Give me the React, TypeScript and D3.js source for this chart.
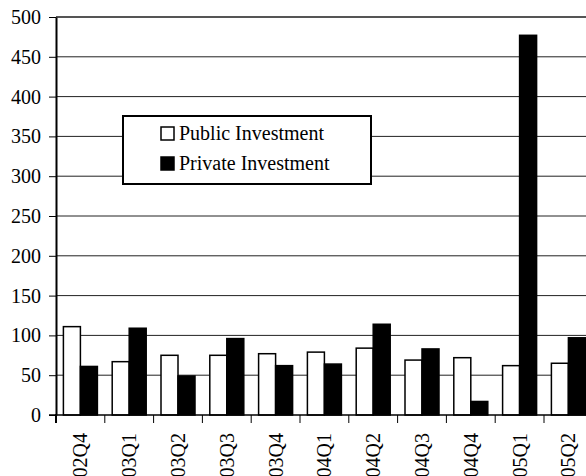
import React, { useEffect, useRef } from 'react';
import * as d3 from 'd3';

const quarters = ['2002Q4', '2003Q1', '2003Q2', '2003Q3', '2003Q4', '2004Q1', '2004Q2', '2004Q3', '2004Q4', '2005Q1', '2005Q2'];
const publicInv = [111, 67, 75, 75, 77, 79, 84, 69, 72, 62, 65];
const privateInv = [61, 109, 49, 96, 62, 64, 114, 83, 17, 477, 97];
const yTicks = [0, 50, 100, 150, 200, 250, 300, 350, 400, 450, 500];

const W = 586;
const H = 476;

const App: React.FC = () => {
  const svgRef = useRef<SVGSVGElement>(null);

  useEffect(() => {
    if (!svgRef.current) return;
    const svg = d3.select(svgRef.current);
    svg.selectAll('*').remove();

    const left = 56, top = 17, bottom = 415;
    const band = 48.8;
    const right = left + band * quarters.length;

    const x = d3.scaleBand<string>().domain(quarters).range([left, right]).paddingInner(0).paddingOuter(0);
    const y = d3.scaleLinear().domain([0, 500]).range([bottom, top]);
    const font = '"Liberation Serif", "Times New Roman", serif';

    // gridlines
    svg.append('g')
      .selectAll('line')
      .data(yTicks.filter(t => t > 0))
      .enter()
      .append('line')
      .attr('x1', left).attr('x2', W)
      .attr('y1', d => y(d)).attr('y2', d => y(d))
      .attr('stroke', d => (d === 500 ? '#555' : '#222'))
      .attr('stroke-width', d => (d === 500 ? 2 : 1));

    // bars
    const inner = 17;
    const offset = (band - inner * 2) / 2;
    const groups = svg.append('g');
    quarters.forEach((q, i) => {
      const x0 = (x(q) as number) + offset;
      groups.append('rect')
        .attr('x', x0).attr('y', y(publicInv[i]))
        .attr('width', inner).attr('height', y(0) - y(publicInv[i]))
        .attr('fill', '#fff').attr('stroke', '#000').attr('stroke-width', 1.5);
      groups.append('rect')
        .attr('x', x0 + inner).attr('y', y(privateInv[i]))
        .attr('width', inner).attr('height', y(0) - y(privateInv[i]))
        .attr('fill', '#000').attr('stroke', '#000').attr('stroke-width', 1.5);
    });

    // y axis
    const ya = svg.append('g').attr('transform', `translate(${left},0)`)
      .call(d3.axisLeft(y).tickValues(yTicks).tickSize(7).tickPadding(8).tickSizeOuter(0));
    ya.attr('font-family', font).attr('font-size', 20);
    ya.select('.domain').attr('stroke-width', 2);
    ya.selectAll('text').attr('fill', '#000');

    // x axis
    const xa = svg.append('g').attr('transform', `translate(0,${bottom})`);
    xa.append('line').attr('x1', left - 7).attr('x2', W).attr('y1', 0).attr('y2', 0)
      .attr('stroke', '#000').attr('stroke-width', 1.5);
    xa.append('line').attr('x1', left).attr('x2', left).attr('y1', -1).attr('y2', 8)
      .attr('stroke', '#000').attr('stroke-width', 2);
    xa.selectAll('line.tk')
      .data(quarters)
      .enter()
      .append('line')
      .attr('class', 'tk')
      .attr('x1', d => (x(d) as number) + band).attr('x2', d => (x(d) as number) + band)
      .attr('y1', 0).attr('y2', 8)
      .attr('stroke', '#000').attr('stroke-width', 1);
    xa.selectAll('text')
      .data(quarters)
      .enter()
      .append('text')
      .attr('transform', d => `translate(${(x(d) as number) + band / 2 + 7},18) rotate(-90)`)
      .attr('text-anchor', 'end')
      .attr('font-family', font)
      .attr('font-size', 20)
      .text(d => d);

    // legend
    const lg = svg.append('g');
    lg.append('rect').attr('x', 123).attr('y', 116).attr('width', 248).attr('height', 68)
      .attr('fill', '#fff').attr('stroke', '#000').attr('stroke-width', 2);
    const items = [
      { label: 'Public Investment', fill: '#fff' },
      { label: 'Private Investment', fill: '#000' },
    ];
    items.forEach((it, i) => {
      const cy = 133 + i * 30;
      lg.append('rect').attr('x', 161).attr('y', cy - 6).attr('width', 13).attr('height', 13)
        .attr('fill', it.fill).attr('stroke', '#000').attr('stroke-width', 1.5);
      lg.append('text').attr('x', 179).attr('y', cy + 7)
        .attr('font-family', font).attr('font-size', 20).text(it.label);
    });
  }, []);

  return (
    <svg ref={svgRef} width={W} height={H}
      style={{ position: 'absolute', left: 0, top: 0, background: '#fff' }} />
  );
};

export default App;
